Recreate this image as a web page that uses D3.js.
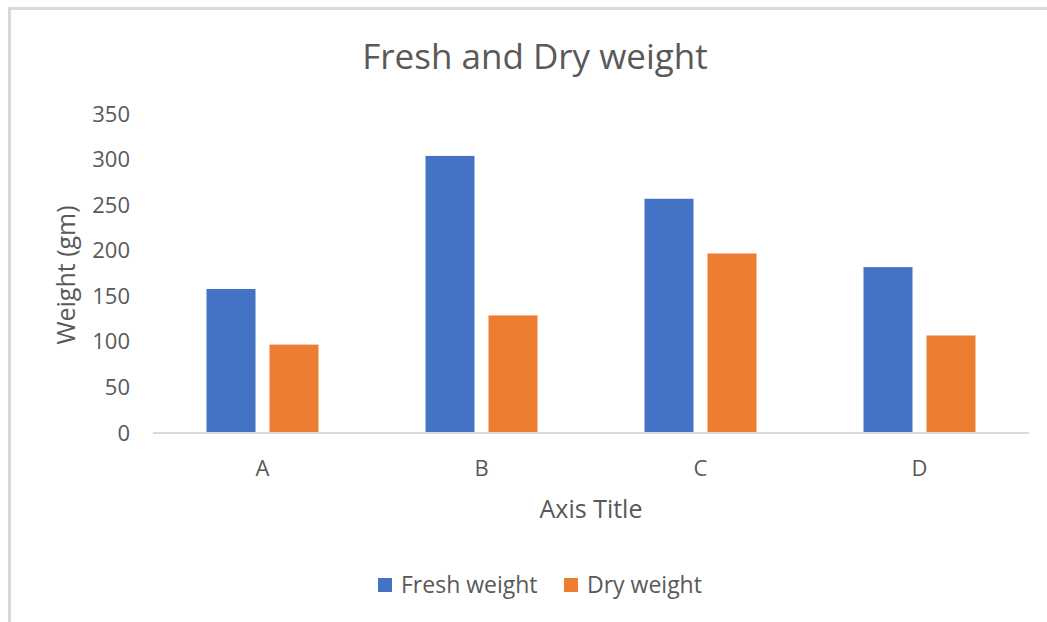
<!DOCTYPE html>
<html>
<head>
<meta charset="utf-8">
<script src="https://cdn.jsdelivr.net/npm/d3@7"></script>
<style>
  html, body { margin: 0; padding: 0; background: #fff; }
  svg { display: block; }
  text { font-family: "Open Sans", "Noto Sans", sans-serif; fill: #595959; }
</style>
</head>
<body>
<svg id="chart" width="1047" height="622"></svg>
<script>
const categories = ["A", "B", "C", "D"];
const seriesNames = ["Fresh weight", "Dry weight"];
const freshWeight = [158, 304, 257, 182];
const dryWeight = [97, 129, 197, 107];
const yTicks = [0, 50, 100, 150, 200, 250, 300, 350];
const colors = ["#4472C4", "#ED7D31"];
const seriesValues = [freshWeight, dryWeight];

const svg = d3.select("#chart");
const W = 1047, H = 622;
svg.append("rect").attr("width", W).attr("height", H).attr("fill", "#fff");

// chart border (only top and left visible in reference)
svg.append("path")
  .attr("d", `M9.5,${H + 5} V8.5 H${W + 5}`)
  .attr("fill", "none").attr("stroke", "#d9d9d9").attr("stroke-width", 3);

const plotLeft = 153, plotRight = 1029, plotTop = 114, plotBottom = 433;

const x0 = d3.scaleBand().domain(categories).range([plotLeft, plotRight])
  .paddingInner(1 - 112 / 219).paddingOuter((1 - 112 / 219) / 2);
const x1 = d3.scaleBand().domain(seriesNames).range([0, x0.bandwidth()])
  .paddingInner(14 / 63);
const y = d3.scaleLinear().domain([0, 350]).range([plotBottom, plotTop]);

// bars
const groups = svg.append("g").selectAll("g").data(categories).join("g")
  .attr("transform", d => `translate(${x0(d)},0)`);
groups.selectAll("rect")
  .data((d, i) => seriesNames.map((s, j) => ({ s, j, v: seriesValues[j][i] })))
  .join("rect")
  .attr("x", d => x1(d.s))
  .attr("width", x1.bandwidth())
  .attr("y", d => y(d.v))
  .attr("height", d => y(0) - y(d.v))
  .attr("fill", d => colors[d.j]);

// x axis
const xAxis = svg.append("g").attr("transform", `translate(0,${plotBottom})`)
  .call(d3.axisBottom(x0).tickSize(0).tickPadding(27));
xAxis.select(".domain").attr("stroke", "#d9d9d9").attr("stroke-width", 2)
  .attr("d", `M${plotLeft},0H${plotRight}`);
xAxis.selectAll("text").attr("font-size", 22).attr("fill", "#595959")
  .attr("font-family", "'Open Sans', 'Noto Sans', sans-serif");

// y axis (labels only)
const yAxis = svg.append("g").attr("transform", `translate(130,0)`)
  .call(d3.axisLeft(y).tickValues(yTicks).tickSize(0).tickPadding(0));
yAxis.select(".domain").remove();
yAxis.selectAll("text").attr("font-size", 22).attr("fill", "#595959")
  .attr("font-family", "'Open Sans', 'Noto Sans', sans-serif");

// title
svg.append("text").attr("x", 535).attr("y", 69).attr("text-anchor", "middle")
  .attr("font-size", 35).text("Fresh and Dry weight");

// axis titles
svg.append("text").attr("x", (plotLeft + plotRight) / 2).attr("y", 518)
  .attr("text-anchor", "middle").attr("font-size", 25).text("Axis Title");
svg.append("text").attr("transform", "translate(75,275) rotate(-90)")
  .attr("text-anchor", "middle").attr("font-size", 25).text("Weight (gm)");

// legend
const legendItems = [
  { name: seriesNames[0], color: colors[0], x: 378 },
  { name: seriesNames[1], color: colors[1], x: 564 }
];
const lg = svg.append("g").selectAll("g").data(legendItems).join("g")
  .attr("transform", d => `translate(${d.x},0)`);
lg.append("rect").attr("x", 0).attr("y", 578).attr("width", 14).attr("height", 14)
  .attr("fill", d => d.color);
lg.append("text").attr("x", 23).attr("y", 593).attr("font-size", 23).text(d => d.name);
</script>
</body>
</html>
